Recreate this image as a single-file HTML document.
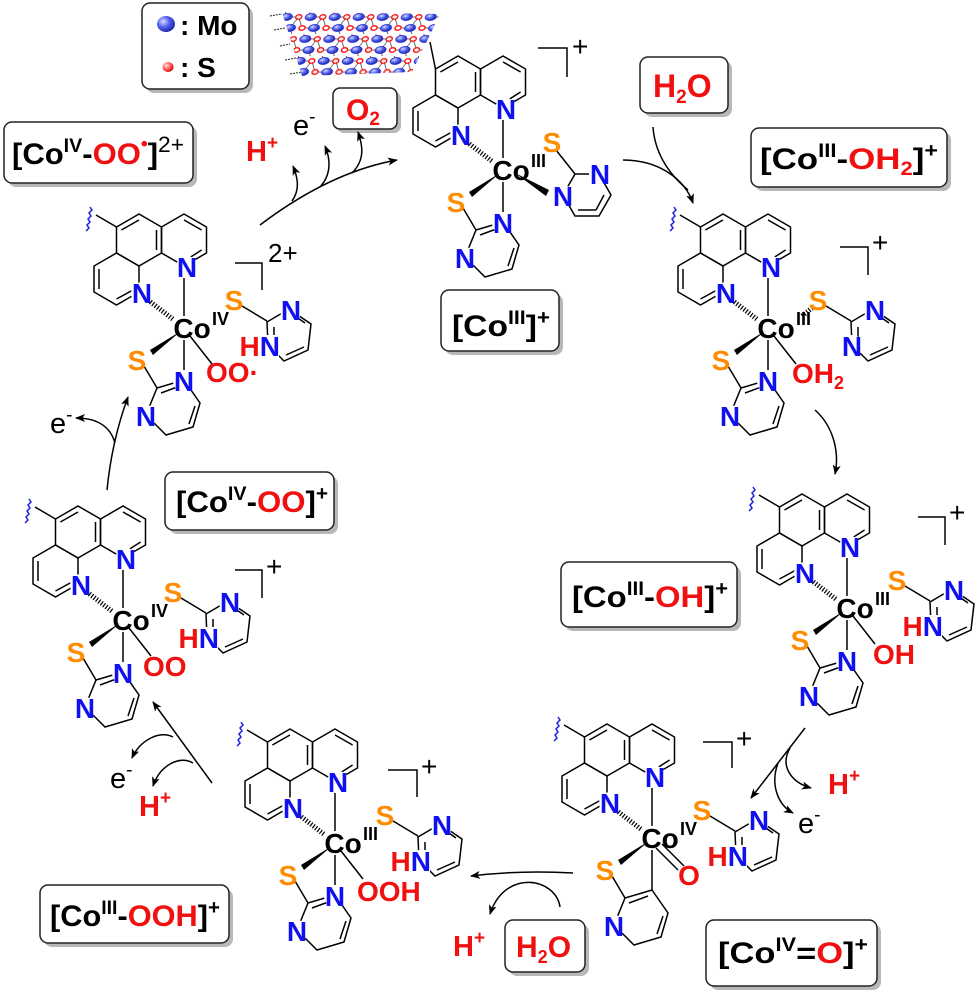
<!DOCTYPE html>
<html><head><meta charset="utf-8"><style>
html,body{margin:0;padding:0;background:#fff}
svg{display:block}
text{font-family:"Liberation Sans",Arial,sans-serif}
.b{font-weight:bold}
.lb{font-weight:bold;text-anchor:middle}
.N{fill:#1010f0}
.S{fill:#ff8c00}
.R{fill:#f01010}
.bd{stroke:#000;stroke-width:1.5;fill:none}
.hs{stroke:#000;stroke-width:5;stroke-dasharray:1.2 1.8;fill:none}
.co{font-weight:bold;text-anchor:middle}
.ox{font-weight:bold}
.ar{stroke:#000;stroke-width:1.5;fill:none}
.box{fill:#fff;stroke:#222;stroke-width:1.5}
.sh{fill:#b8b8b8}
.bt{font-weight:bold}
.wc{fill:#fff}
</style></head><body>
<svg width="975" height="994" viewBox="0 0 975 994" xmlns="http://www.w3.org/2000/svg">
<defs>
<marker id="ah" markerWidth="10" markerHeight="8" refX="9" refY="4" orient="auto" markerUnits="userSpaceOnUse"><path d="M0,0 L10,4 L0,8 L2.5,4 Z" fill="#000"/></marker>
<radialGradient id="gb" cx="35%" cy="35%" r="70%"><stop offset="0" stop-color="#d8dcff"/><stop offset="0.5" stop-color="#5060f0"/><stop offset="1" stop-color="#1a22a0"/></radialGradient>
<radialGradient id="gr" cx="35%" cy="35%" r="70%"><stop offset="0" stop-color="#ffe0e0"/><stop offset="0.6" stop-color="#ff5050"/><stop offset="1" stop-color="#c00"/></radialGradient>
<pattern id="ms" width="24" height="22" patternUnits="userSpaceOnUse" patternTransform="translate(282,12) skewX(-14)">
<path d="M6,5 L18,5 L24,16 M18,5 L12,16 L0,16 M6,5 L0,-6 M12,16 L18,27" stroke="#333" stroke-width="0.7" fill="none"/>
<ellipse cx="6" cy="5" rx="5.5" ry="3.6" fill="url(#gb)" stroke="#1010c0" stroke-width="0.6"/>
<ellipse cx="18" cy="5" rx="3" ry="2.3" fill="#fff" stroke="#f00" stroke-width="1.3"/>
<ellipse cx="0" cy="16" rx="3" ry="2.3" fill="#fff" stroke="#f00" stroke-width="1.3"/>
<ellipse cx="24" cy="16" rx="3" ry="2.3" fill="#fff" stroke="#f00" stroke-width="1.3"/>
<ellipse cx="12" cy="16" rx="5.5" ry="3.6" fill="url(#gb)" stroke="#1010c0" stroke-width="0.6"/>
</pattern>
</defs>

<polygon points="282,12 440,14 412,72 302,76" fill="url(#ms)"/>
<path d="M270,16 L282,14 M274,30 L285,28 M280,46 L290,44 M285,60 L296,58 M290,74 L302,72" stroke="#222" stroke-width="1" stroke-dasharray="2 1"/>

<rect class="sh" x="146" y="7" width="107" height="86" rx="8"/>
<rect class="box" x="142" y="3" width="107" height="86" rx="8"/>
<ellipse cx="166" cy="24" rx="9" ry="8" fill="url(#gb)"/>
<text x="180" y="35" class="b" font-size="28">: Mo</text>
<ellipse cx="168" cy="67" rx="5.5" ry="5" fill="url(#gr)"/>
<text x="180" y="77" class="b" font-size="28">: S</text>

<rect class="sh" x="8" y="126" width="189" height="61" rx="8"/><rect class="box" x="4" y="122" width="189" height="61" rx="8"/>
<text x="12" y="164" class="bt" font-size="30" textLength="172" lengthAdjust="spacingAndGlyphs">[Co<tspan font-size="19" dy="-12">IV</tspan><tspan dy="12">-</tspan><tspan class="R">OO</tspan><tspan class="R" font-size="19" dy="-14">•</tspan><tspan dy="14">]</tspan><tspan font-size="22" font-weight="normal" dy="-12">2+</tspan></text>

<rect class="sh" x="337" y="92" width="64" height="41" rx="7"/><rect class="box" x="333" y="88" width="64" height="41" rx="7"/>
<text x="346" y="120" class="bt R" font-size="30">O<tspan font-size="19" dy="5">2</tspan></text>

<rect class="sh" x="445" y="294" width="118" height="61" rx="8"/><rect class="box" x="441" y="290" width="118" height="61" rx="8"/>
<text x="452" y="336" class="bt" font-size="30" textLength="98" lengthAdjust="spacingAndGlyphs">[Co<tspan font-size="19" dy="-12">III</tspan><tspan dy="12">]</tspan><tspan font-size="20" dy="-12">+</tspan></text>

<rect class="sh" x="644" y="61" width="88" height="56" rx="8"/><rect class="box" x="640" y="57" width="88" height="56" rx="8"/>
<text x="653" y="97" class="bt R" font-size="32">H<tspan font-size="19" dy="6">2</tspan><tspan dy="-6">O</tspan></text>

<rect class="sh" x="755" y="132" width="196" height="59" rx="8"/><rect class="box" x="751" y="128" width="196" height="59" rx="8"/>
<text x="760" y="169" class="bt" font-size="30" textLength="178" lengthAdjust="spacingAndGlyphs">[Co<tspan font-size="19" dy="-12">III</tspan><tspan dy="12">-</tspan><tspan class="R">OH</tspan><tspan class="R" font-size="19" dy="6">2</tspan><tspan dy="-6">]</tspan><tspan font-size="20" dy="-12">+</tspan></text>

<rect class="sh" x="565" y="566" width="176" height="65" rx="8"/><rect class="box" x="561" y="562" width="176" height="65" rx="8"/>
<text x="572" y="607" class="bt" font-size="30" textLength="156" lengthAdjust="spacingAndGlyphs">[Co<tspan font-size="19" dy="-12">III</tspan><tspan dy="12">-</tspan><tspan class="R">OH</tspan><tspan>]</tspan><tspan font-size="20" dy="-12">+</tspan></text>

<rect class="sh" x="710" y="924" width="171" height="66" rx="8"/><rect class="box" x="706" y="920" width="171" height="66" rx="8"/>
<text x="718" y="963" class="bt" font-size="30" textLength="150" lengthAdjust="spacingAndGlyphs">[Co<tspan font-size="19" dy="-12">IV</tspan><tspan dy="12">=</tspan><tspan class="R">O</tspan><tspan>]</tspan><tspan font-size="20" dy="-12">+</tspan></text>

<rect class="sh" x="509" y="924" width="80" height="52" rx="8"/><rect class="box" x="505" y="920" width="80" height="52" rx="8"/>
<text x="516" y="957" class="bt R" font-size="30">H<tspan font-size="18" dy="6">2</tspan><tspan dy="-6">O</tspan></text>

<rect class="sh" x="44" y="889" width="189" height="58" rx="8"/><rect class="box" x="40" y="885" width="189" height="58" rx="8"/>
<text x="50" y="926" class="bt" font-size="30" textLength="170" lengthAdjust="spacingAndGlyphs">[Co<tspan font-size="19" dy="-12">III</tspan><tspan dy="12">-</tspan><tspan class="R">OOH</tspan><tspan>]</tspan><tspan font-size="20" dy="-12">+</tspan></text>

<rect class="sh" x="169" y="476" width="169" height="58" rx="8"/><rect class="box" x="165" y="472" width="169" height="58" rx="8"/>
<text x="176" y="512" class="bt" font-size="30" textLength="152" lengthAdjust="spacingAndGlyphs">[Co<tspan font-size="19" dy="-12">IV</tspan><tspan dy="12">-</tspan><tspan class="R">OO</tspan><tspan>]</tspan><tspan font-size="20" dy="-12">+</tspan></text>

<text x="246" y="161" class="b R" font-size="29">H<tspan font-size="19" dy="-12">+</tspan></text>
<text x="293" y="135" font-size="29">e<tspan font-size="19" dy="-12">-</tspan></text>
<text x="828" y="794" class="b R" font-size="29">H<tspan font-size="19" dy="-12">+</tspan></text>
<text x="798" y="833" font-size="29">e<tspan font-size="19" dy="-12">-</tspan></text>
<text x="453" y="956" class="b R" font-size="29">H<tspan font-size="19" dy="-12">+</tspan></text>
<text x="110" y="788" font-size="29">e<tspan font-size="19" dy="-12">-</tspan></text>
<text x="139" y="816" class="b R" font-size="29">H<tspan font-size="19" dy="-12">+</tspan></text>
<text x="50" y="433" font-size="29">e<tspan font-size="19" dy="-12">-</tspan></text>

<path class="ar" d="M260,225 Q330,172 397,160" marker-end="url(#ah)"/>
<path class="ar" d="M292,201 C300,190 298,178 293,166" marker-end="url(#ah)"/>
<path class="ar" d="M320,187 C331,175 331,160 325,146" marker-end="url(#ah)"/>
<path class="ar" d="M352,173 C365,160 363,146 358,132" marker-end="url(#ah)"/>
<path class="ar" d="M623,160 C660,160 685,180 693,203" marker-end="url(#ah)"/>
<path class="ar" d="M653,127 C655,155 670,175 688,190"/>
<path class="ar" d="M815,410 C832,425 840,450 835,474" marker-end="url(#ah)"/>
<path class="ar" d="M805,728 L751,798" marker-end="url(#ah)"/>
<path class="ar" d="M790,748 C780,765 790,782 811,788" marker-end="url(#ah)"/>
<path class="ar" d="M778,763 C770,785 778,805 793,813" marker-end="url(#ah)"/>
<path class="ar" d="M573,873 Q520,870 471,876" marker-end="url(#ah)"/>
<path class="ar" d="M560,907 C556,878 505,868 490,914" marker-end="url(#ah)"/>
<path class="ar" d="M212,783 L153,702" marker-end="url(#ah)"/>
<path class="ar" d="M173,737 C160,730 140,740 132,758" marker-end="url(#ah)"/>
<path class="ar" d="M193,763 C180,755 160,765 153,786" marker-end="url(#ah)"/>
<path class="ar" d="M107,490 Q112,440 128,397" marker-end="url(#ah)"/>
<path class="ar" d="M115,443 C110,425 95,418 76,418" marker-end="url(#ah)"/>

<g class="bd"><path d="M538,48 H567 V77"/><path d="M840,247 H868 V275"/><path d="M918,517 H945 V545"/><path d="M703,742 H732 V768"/><path d="M388,770 H417 V797"/><path d="M235,570 H262 V598"/><path d="M235,263 H262 V290"/></g>
<text x="572" y="56" font-size="28">+</text>
<text x="872" y="252" font-size="28">+</text>
<text x="949" y="522" font-size="28">+</text>
<text x="736" y="748" font-size="28">+</text>
<text x="421" y="776" font-size="28">+</text>
<text x="266" y="576" font-size="28">+</text>
<text x="268" y="262" font-size="26">2+</text>

<!-- Molecule 1 (top) -->
<g transform="translate(503,170)" font-size="28">
<g transform="translate(3,0)" class="bd">
<polygon points="-3,-114 19.5,-101 19.5,-75 -3,-62 -25.5,-75 -25.5,-101"/>
<polygon points="-48,-114 -25.5,-101 -25.5,-75 -48,-62 -70.5,-75 -70.5,-101"/>
<polygon points="-70.5,-75 -48,-62 -48,-36 -70.5,-23 -93,-36 -93,-62"/>
<path d="M-3,-108 L14.6,-98 M14.6,-78 L-1,-68 M-65.6,-98 L-48,-108 M-30.5,-98 L-30.5,-78 M-88,-59 L-88,-39 M-70.5,-29 L-54,-38 M-70.5,-101 L-76,-128"/>
</g>
<path class="bd" d="M0,-50 L0,-12 M0,12 L0,42 M-40,38 L-27,60 M53,-20 L72,4"/>
<path class="hs" d="M-36,-28 L-10,-8"/>
<polygon points="-3,3 -34,22 -31,27" fill="#000"/>
<polygon points="12,3 46,20 43,26" fill="#000"/>
<polygon class="bd" points="0,52 16,75 9,99 -18,107 -38,87 -27,60"/>
<path class="bd" d="M-23,65 L-4,58 M11,78 L5,96"/>
<polygon class="bd" points="108,25 96,46 72,46 60,25 72,4 96,4"/>
<path class="bd" d="M101,25 L93,40 M75,40 L93,40"/>
<g class="wc"><circle cx="3" cy="-61" r="11"/><circle cx="-42" cy="-35" r="11"/><circle cx="0" cy="53" r="11"/><circle cx="-38" cy="88" r="11"/><circle cx="-47" cy="32" r="10"/><circle cx="49" cy="-28" r="10"/><circle cx="60" cy="26" r="11"/><circle cx="97" cy="4" r="11"/></g>
<text x="3" y="-51" class="lb N">N</text>
<text x="-42" y="-25" class="lb N">N</text>
<text x="0" y="63" class="lb N">N</text>
<text x="-38" y="98" class="lb N">N</text>
<text x="-47" y="42" class="lb S">S</text>
<text x="49" y="-18" class="lb S">S</text>
<text x="60" y="36" class="lb N">N</text>
<text x="97" y="14" class="lb N">N</text>
<text x="8" y="10" class="co">Co</text>
<text x="28" y="-3" class="ox" font-size="18">III</text>
</g>

<!-- Mol 2 OH2 -->
<g transform="translate(768,328)" font-size="28">
<g transform="translate(3,0)" class="bd">
<polygon points="-3,-114 19.5,-101 19.5,-75 -3,-62 -25.5,-75 -25.5,-101"/>
<polygon points="-48,-114 -25.5,-101 -25.5,-75 -48,-62 -70.5,-75 -70.5,-101"/>
<polygon points="-70.5,-75 -48,-62 -48,-36 -70.5,-23 -93,-36 -93,-62"/>
<path d="M-3,-108 L14.6,-98 M14.6,-78 L-1,-68 M-65.6,-98 L-48,-108 M-30.5,-98 L-30.5,-78 M-88,-59 L-88,-39 M-70.5,-29 L-54,-38 M-70.5,-101 L-91,-113"/>
<path d="M-101,-97 l3,-3 -2,-3 3,-3 -2,-3 3,-3 -2,-3 3,-3 -2,-3" stroke="#2020e0"/>
</g>
<path class="bd" d="M0,-50 L0,-12 M0,12 L0,42 M6,8 L28,36 M58,-22 L83,-7 M-40,38 L-27,60"/>
<path class="hs" d="M-36,-28 L-10,-8 M34,-12 L44,-20"/>
<polygon points="-3,3 -34,22 -31,27" fill="#000"/>
<polygon class="bd" points="83,-6 105,-19 127,-4 124,22 100,33 84,17"/>
<path class="bd" d="M90,-1 L90,12 M120,19 L102,27 M111,-12 L121,-5"/>
<polygon class="bd" points="0,52 16,75 9,99 -18,107 -38,87 -27,60"/>
<path class="bd" d="M-23,65 L-4,58 M11,78 L5,96"/>
<g class="wc"><circle cx="3" cy="-61" r="11"/><circle cx="-42" cy="-35" r="11"/><circle cx="0" cy="53" r="11"/><circle cx="-38" cy="88" r="11"/><circle cx="107" cy="-18" r="11"/><circle cx="84" cy="18" r="11"/></g>
<text x="3" y="-51" class="lb N">N</text>
<text x="-42" y="-25" class="lb N">N</text>
<text x="0" y="63" class="lb N">N</text>
<text x="-38" y="98" class="lb N">N</text>
<text x="-47" y="42" class="lb S">S</text>
<text x="50" y="-18" class="lb S">S</text>
<text x="107" y="-8" class="lb N">N</text>
<text x="84" y="28" class="lb N">N</text>
<text x="24" y="55" class="lb R" style="text-anchor:start">OH<tspan font-size="18" dy="6">2</tspan></text>
<text x="8" y="10" class="co">Co</text>
<text x="28" y="-3" class="ox" font-size="18">III</text>
</g>

<!-- Mol 3 OH -->
<g transform="translate(847,608)" font-size="28">
<g transform="translate(3,0)" class="bd">
<polygon points="-3,-114 19.5,-101 19.5,-75 -3,-62 -25.5,-75 -25.5,-101"/>
<polygon points="-48,-114 -25.5,-101 -25.5,-75 -48,-62 -70.5,-75 -70.5,-101"/>
<polygon points="-70.5,-75 -48,-62 -48,-36 -70.5,-23 -93,-36 -93,-62"/>
<path d="M-3,-108 L14.6,-98 M14.6,-78 L-1,-68 M-65.6,-98 L-48,-108 M-30.5,-98 L-30.5,-78 M-88,-59 L-88,-39 M-70.5,-29 L-54,-38 M-70.5,-101 L-91,-113"/>
<path d="M-101,-97 l3,-3 -2,-3 3,-3 -2,-3 3,-3 -2,-3 3,-3 -2,-3" stroke="#2020e0"/>
</g>
<path class="bd" d="M0,-50 L0,-12 M0,12 L0,42 M6,8 L28,36 M58,-22 L83,-7 M-40,38 L-27,60"/>
<path class="hs" d="M-36,-28 L-10,-8"/>
<polygon points="-3,3 -34,22 -31,27" fill="#000"/>
<polygon class="bd" points="83,-6 105,-19 127,-4 124,22 100,33 84,17"/>
<path class="bd" d="M90,-1 L90,12 M120,19 L102,27 M111,-12 L121,-5"/>
<polygon class="bd" points="0,52 16,75 9,99 -18,107 -38,87 -27,60"/>
<path class="bd" d="M-23,65 L-4,58 M11,78 L5,96"/>
<g class="wc"><circle cx="3" cy="-61" r="11"/><circle cx="-42" cy="-35" r="11"/><circle cx="0" cy="53" r="11"/><circle cx="-38" cy="88" r="11"/><circle cx="107" cy="-18" r="11"/><rect x="58" y="7" width="37" height="22"/></g>
<text x="3" y="-51" class="lb N">N</text>
<text x="-42" y="-25" class="lb N">N</text>
<text x="0" y="63" class="lb N">N</text>
<text x="-38" y="98" class="lb N">N</text>
<text x="-47" y="42" class="lb S">S</text>
<text x="50" y="-18" class="lb S">S</text>
<text x="107" y="-8" class="lb N">N</text>
<text x="96" y="28" class="lb" style="text-anchor:end"><tspan class="R">H</tspan><tspan class="N">N</tspan></text>
<text x="26" y="56" class="lb R" style="text-anchor:start">OH</text>
<text x="8" y="10" class="co">Co</text>
<text x="28" y="-3" class="ox" font-size="18">III</text>
</g>

<!-- Mol 4 =O -->
<g transform="translate(652,838)" font-size="28">
<g transform="translate(3,0)" class="bd">
<polygon points="-3,-114 19.5,-101 19.5,-75 -3,-62 -25.5,-75 -25.5,-101"/>
<polygon points="-48,-114 -25.5,-101 -25.5,-75 -48,-62 -70.5,-75 -70.5,-101"/>
<polygon points="-70.5,-75 -48,-62 -48,-36 -70.5,-23 -93,-36 -93,-62"/>
<path d="M-3,-108 L14.6,-98 M14.6,-78 L-1,-68 M-65.6,-98 L-48,-108 M-30.5,-98 L-30.5,-78 M-88,-59 L-88,-39 M-70.5,-29 L-54,-38 M-70.5,-101 L-91,-113"/>
<path d="M-101,-97 l3,-3 -2,-3 3,-3 -2,-3 3,-3 -2,-3 3,-3 -2,-3" stroke="#2020e0"/>
</g>
<path class="bd" d="M0,-50 L0,-12 M0,12 L0,52 M4,10 L26,32 M10,6 L32,28 M58,-22 L83,-7 M-40,38 L-27,60"/>
<path class="hs" d="M-36,-28 L-10,-8"/>
<polygon points="-3,3 -34,22 -31,27" fill="#000"/>
<polygon class="bd" points="83,-6 105,-19 127,-4 124,22 100,33 84,17"/>
<path class="bd" d="M90,-1 L90,12 M120,19 L102,27 M111,-12 L121,-5"/>
<polygon class="bd" points="0,52 16,75 9,99 -18,107 -38,87 -27,60"/>
<path class="bd" d="M-23,65 L-4,58 M11,78 L5,96"/>
<g class="wc"><circle cx="3" cy="-61" r="11"/><circle cx="-42" cy="-35" r="11"/><circle cx="-38" cy="88" r="11"/><circle cx="107" cy="-18" r="11"/><rect x="58" y="7" width="37" height="22"/></g>
<text x="3" y="-51" class="lb N">N</text>
<text x="-42" y="-25" class="lb N">N</text>
<text x="-38" y="98" class="lb N">N</text>
<text x="-47" y="42" class="lb S">S</text>
<text x="50" y="-18" class="lb S">S</text>
<text x="107" y="-8" class="lb N">N</text>
<text x="96" y="28" class="lb" style="text-anchor:end"><tspan class="R">H</tspan><tspan class="N">N</tspan></text>
<text x="37" y="47" class="lb R">O</text>
<text x="8" y="10" class="co">Co</text>
<text x="28" y="-3" class="ox" font-size="18">IV</text>
</g>

<!-- Mol 5 OOH -->
<g transform="translate(335,843)" font-size="28">
<g transform="translate(3,0)" class="bd">
<polygon points="-3,-114 19.5,-101 19.5,-75 -3,-62 -25.5,-75 -25.5,-101"/>
<polygon points="-48,-114 -25.5,-101 -25.5,-75 -48,-62 -70.5,-75 -70.5,-101"/>
<polygon points="-70.5,-75 -48,-62 -48,-36 -70.5,-23 -93,-36 -93,-62"/>
<path d="M-3,-108 L14.6,-98 M14.6,-78 L-1,-68 M-65.6,-98 L-48,-108 M-30.5,-98 L-30.5,-78 M-88,-59 L-88,-39 M-70.5,-29 L-54,-38 M-70.5,-101 L-91,-113"/>
<path d="M-101,-97 l3,-3 -2,-3 3,-3 -2,-3 3,-3 -2,-3 3,-3 -2,-3" stroke="#2020e0"/>
</g>
<path class="bd" d="M0,-50 L0,-12 M0,12 L0,42 M6,8 L28,36 M58,-22 L83,-7 M-40,38 L-27,60"/>
<path class="hs" d="M-36,-28 L-10,-8"/>
<polygon points="-3,3 -34,22 -31,27" fill="#000"/>
<polygon class="bd" points="83,-6 105,-19 127,-4 124,22 100,33 84,17"/>
<path class="bd" d="M90,-1 L90,12 M120,19 L102,27 M111,-12 L121,-5"/>
<polygon class="bd" points="0,52 16,75 9,99 -18,107 -38,87 -27,60"/>
<path class="bd" d="M-23,65 L-4,58 M11,78 L5,96"/>
<g class="wc"><circle cx="3" cy="-61" r="11"/><circle cx="-42" cy="-35" r="11"/><circle cx="0" cy="53" r="11"/><circle cx="-38" cy="88" r="11"/><circle cx="107" cy="-18" r="11"/><rect x="58" y="7" width="37" height="22"/></g>
<text x="3" y="-51" class="lb N">N</text>
<text x="-42" y="-25" class="lb N">N</text>
<text x="0" y="63" class="lb N">N</text>
<text x="-38" y="98" class="lb N">N</text>
<text x="-47" y="42" class="lb S">S</text>
<text x="50" y="-18" class="lb S">S</text>
<text x="107" y="-8" class="lb N">N</text>
<text x="96" y="28" class="lb" style="text-anchor:end"><tspan class="R">H</tspan><tspan class="N">N</tspan></text>
<text x="22" y="58" class="lb R" style="text-anchor:start">OOH</text>
<text x="8" y="10" class="co">Co</text>
<text x="28" y="-3" class="ox" font-size="18">III</text>
</g>

<!-- Mol 6 OO -->
<g transform="translate(123,620)" font-size="28">
<g transform="translate(3,0)" class="bd">
<polygon points="-3,-114 19.5,-101 19.5,-75 -3,-62 -25.5,-75 -25.5,-101"/>
<polygon points="-48,-114 -25.5,-101 -25.5,-75 -48,-62 -70.5,-75 -70.5,-101"/>
<polygon points="-70.5,-75 -48,-62 -48,-36 -70.5,-23 -93,-36 -93,-62"/>
<path d="M-3,-108 L14.6,-98 M14.6,-78 L-1,-68 M-65.6,-98 L-48,-108 M-30.5,-98 L-30.5,-78 M-88,-59 L-88,-39 M-70.5,-29 L-54,-38 M-70.5,-101 L-91,-113"/>
<path d="M-101,-97 l3,-3 -2,-3 3,-3 -2,-3 3,-3 -2,-3 3,-3 -2,-3" stroke="#2020e0"/>
</g>
<path class="bd" d="M0,-50 L0,-12 M0,12 L0,42 M6,8 L28,36 M58,-22 L83,-7 M-40,38 L-27,60"/>
<path class="hs" d="M-36,-28 L-10,-8"/>
<polygon points="-3,3 -34,22 -31,27" fill="#000"/>
<polygon class="bd" points="83,-6 105,-19 127,-4 124,22 100,33 84,17"/>
<path class="bd" d="M90,-1 L90,12 M120,19 L102,27 M111,-12 L121,-5"/>
<polygon class="bd" points="0,52 16,75 9,99 -18,107 -38,87 -27,60"/>
<path class="bd" d="M-23,65 L-4,58 M11,78 L5,96"/>
<g class="wc"><circle cx="3" cy="-61" r="11"/><circle cx="-42" cy="-35" r="11"/><circle cx="0" cy="53" r="11"/><circle cx="-38" cy="88" r="11"/><circle cx="107" cy="-18" r="11"/><rect x="58" y="7" width="37" height="22"/></g>
<text x="3" y="-51" class="lb N">N</text>
<text x="-42" y="-25" class="lb N">N</text>
<text x="0" y="63" class="lb N">N</text>
<text x="-38" y="98" class="lb N">N</text>
<text x="-47" y="42" class="lb S">S</text>
<text x="50" y="-18" class="lb S">S</text>
<text x="107" y="-8" class="lb N">N</text>
<text x="96" y="28" class="lb" style="text-anchor:end"><tspan class="R">H</tspan><tspan class="N">N</tspan></text>
<text x="20" y="56" class="lb R" style="text-anchor:start">OO</text>
<text x="8" y="10" class="co">Co</text>
<text x="28" y="-3" class="ox" font-size="18">IV</text>
</g>

<!-- Mol 7 OO. -->
<g transform="translate(184,328)" font-size="28">
<g transform="translate(3,0)" class="bd">
<polygon points="-3,-114 19.5,-101 19.5,-75 -3,-62 -25.5,-75 -25.5,-101"/>
<polygon points="-48,-114 -25.5,-101 -25.5,-75 -48,-62 -70.5,-75 -70.5,-101"/>
<polygon points="-70.5,-75 -48,-62 -48,-36 -70.5,-23 -93,-36 -93,-62"/>
<path d="M-3,-108 L14.6,-98 M14.6,-78 L-1,-68 M-65.6,-98 L-48,-108 M-30.5,-98 L-30.5,-78 M-88,-59 L-88,-39 M-70.5,-29 L-54,-38 M-70.5,-101 L-91,-113"/>
<path d="M-101,-97 l3,-3 -2,-3 3,-3 -2,-3 3,-3 -2,-3 3,-3 -2,-3" stroke="#2020e0"/>
</g>
<path class="bd" d="M0,-50 L0,-12 M0,12 L0,42 M6,8 L28,36 M58,-22 L83,-7 M-40,38 L-27,60"/>
<path class="hs" d="M-36,-28 L-10,-8"/>
<polygon points="-3,3 -34,22 -31,27" fill="#000"/>
<polygon class="bd" points="83,-6 105,-19 127,-4 124,22 100,33 84,17"/>
<path class="bd" d="M90,-1 L90,12 M120,19 L102,27 M111,-12 L121,-5"/>
<polygon class="bd" points="0,52 16,75 9,99 -18,107 -38,87 -27,60"/>
<path class="bd" d="M-23,65 L-4,58 M11,78 L5,96"/>
<g class="wc"><circle cx="3" cy="-61" r="11"/><circle cx="-42" cy="-35" r="11"/><circle cx="0" cy="53" r="11"/><circle cx="-38" cy="88" r="11"/><circle cx="107" cy="-18" r="11"/><rect x="58" y="7" width="37" height="22"/></g>
<text x="3" y="-51" class="lb N">N</text>
<text x="-42" y="-25" class="lb N">N</text>
<text x="0" y="63" class="lb N">N</text>
<text x="-38" y="98" class="lb N">N</text>
<text x="-47" y="42" class="lb S">S</text>
<text x="50" y="-18" class="lb S">S</text>
<text x="107" y="-8" class="lb N">N</text>
<text x="96" y="28" class="lb" style="text-anchor:end"><tspan class="R">H</tspan><tspan class="N">N</tspan></text>
<text x="22" y="54" class="lb R" style="text-anchor:start">OO·</text>
<text x="8" y="10" class="co">Co</text>
<text x="28" y="-3" class="ox" font-size="18">IV</text>
</g>
</svg>
</body></html>
